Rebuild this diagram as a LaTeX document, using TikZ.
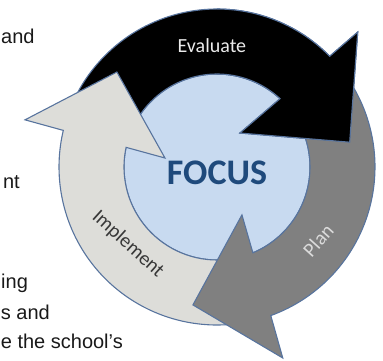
\documentclass[tikz,border=0pt]{standalone}
\usepackage{fontspec}
\setmainfont{Liberation Sans}
\newfontfamily\calib{Carlito}

\definecolor{ringline}{RGB}{88,116,158}
\definecolor{focusfill}{RGB}{200,218,240}
\definecolor{focustext}{RGB}{31,74,124}
\definecolor{planfill}{RGB}{128,128,128}
\definecolor{implfill}{RGB}{221,221,217}

\tikzset{
  cyclearrow/.style={draw=ringline, line width=1.1pt, line join=miter},
  doctext/.style={anchor=base east, inner sep=0pt, text=black!90, font=\fontsize{20}{24}\selectfont},
  steplabel/.style={inner sep=0pt, font=\calib\fontsize{20}{24}\selectfont},
}

\begin{document}
\begin{tikzpicture}[x=1pt,y=1pt]
    \clip (-217,-193) rectangle (166,167);

    % text of the page beside the figure
    \node[doctext, anchor=base west] (line1) at (-216,124) {and};
    \node[doctext] (line2) at (-197,-21) {nt};
    \node[doctext, anchor=base west] (line3) at (-216,-121) {ing};
    \node[doctext] (line4) at (-167,-152) {s and};
    \node[doctext] (line5) at (-94,-181) {e the school’s};

    % centre disc
    \draw[cyclearrow, fill=focusfill] (0,0) circle (93);

    % evaluate
    \draw[cyclearrow, fill=black] (158:158) arc[start angle=158, end angle=44.5, radius=158]
        -- (43.8:195) -- (10.6:135) -- (56:41) -- (47.3:93)
        arc[start angle=47.3, end angle=158, radius=93] -- cycle;

    % implement
    \draw[cyclearrow, fill=implfill] (280:158) arc[start angle=280, end angle=166.6, radius=158]
        -- (166.2:197.7) -- (136.5:138) -- (170.2:52.8) -- (167.8:93)
        arc[start angle=167.8, end angle=280, radius=93] -- cycle;

    % plan
    \draw[cyclearrow, fill=planfill] (35:158) arc[start angle=35, end angle=-70.1, radius=158]
        -- (-71:202) -- (-99.9:140) -- (-62.5:54) -- (-67.3:93)
        arc[start angle=-67.3, end angle=35, radius=93] -- cycle;

    % head of evaluate again, over the tail of plan
    \begin{scope}
        \clip (0,0) rectangle (170,170);
        \draw[cyclearrow, fill=black] (158:158) arc[start angle=158, end angle=44.5, radius=158]
            -- (43.8:195) -- (10.6:135) -- (56:41) -- (47.3:93)
            arc[start angle=47.3, end angle=158, radius=93] -- cycle;
    \end{scope}

    \node[steplabel, text=black!8] (evaluate) at (92.4:121) {Evaluate};
    \node[steplabel, text=black!14, rotate=48] (plan) at (-36:125) {Plan};
    \node[steplabel, text=black!78, rotate=-42] (implement) at (-139:118) {Implement};
    \node[font=\calib\bfseries\fontsize{36}{40}\selectfont, text=focustext] (focus) at (0,-6) {FOCUS};

\end{tikzpicture}
\end{document}
